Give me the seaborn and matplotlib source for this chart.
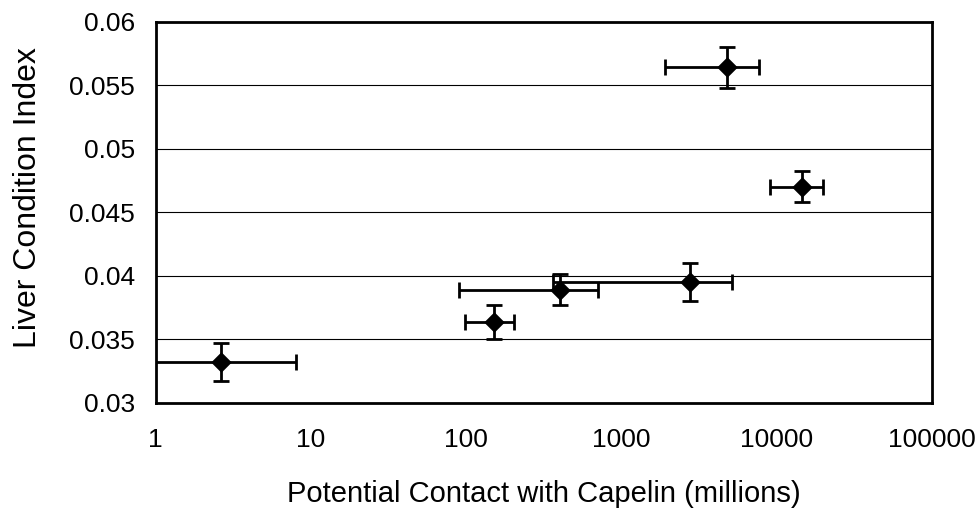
import numpy as np
import pandas as pd
import matplotlib
matplotlib.use('Agg')
import matplotlib.pyplot as plt
import seaborn as sns
from matplotlib.ticker import FuncFormatter, FixedLocator


# =========================
# Dados
# =========================

contact = [2.65, 151, 400, 2760, 4800, 14500]
contact_err = [5.35, 53, 310, 2400, 2900, 5500]
liver = [0.0332, 0.03636, 0.03893, 0.03953, 0.05641, 0.04704]
liver_err = [0.0015, 0.00135, 0.0012, 0.00147, 0.00163, 0.0012]

df = pd.DataFrame({'contact': contact, 'liver': liver})

x_ticks = [1, 10, 100, 1000, 10000, 100000]
y_ticks = [0.03, 0.035, 0.04, 0.045, 0.05, 0.055, 0.06]


# =========================
# Figura
# =========================

sns.set_style('white')
plt.rcParams['font.family'] = ['Liberation Sans', 'DejaVu Sans']
plt.rcParams['text.color'] = 'black'
plt.rcParams['axes.labelcolor'] = 'black'

fig = plt.figure(figsize=(9.79, 5.21), dpi=100)
ax = fig.add_axes([0.159, 0.2265, 0.793, 0.7315])

ax.errorbar(
    df['contact'], df['liver'],
    xerr=contact_err, yerr=liver_err,
    fmt='none', ecolor='black',
    elinewidth=2, capsize=5.5, capthick=2,
    zorder=3
)

sns.scatterplot(
    data=df, x='contact', y='liver',
    marker='D', color='black', s=110,
    edgecolor='black', linewidth=0,
    ax=ax, zorder=4
)

ax.set_xscale('log')
ax.set_xlim(1, 100000)
ax.set_ylim(0.03, 0.06)

ax.xaxis.set_major_locator(FixedLocator(x_ticks))
ax.xaxis.set_minor_locator(FixedLocator([]))
ax.xaxis.set_major_formatter(FuncFormatter(lambda v, p: '%d' % v))
ax.set_yticks(y_ticks)
ax.yaxis.set_major_formatter(FuncFormatter(lambda v, p: '%g' % round(v, 3)))

for y in y_ticks[1:-1]:
    ax.axhline(y, color='black', lw=0.8, zorder=1)

for s in ax.spines.values():
    s.set_color('black')
    s.set_linewidth(2)

ax.tick_params(axis='both', which='major', direction='out',
               length=4, width=0.8, color='black',
               labelsize=19, labelcolor='black', pad=11)
ax.tick_params(axis='x', pad=14)

ax.set_xlabel('Potential Contact with Capelin (millions)', fontsize=21,
              labelpad=20)
ax.set_ylabel('Liver Condition Index', fontsize=23)
ax.yaxis.set_label_coords(-0.145, 0.54)

plt.savefig('out.png', dpi=100)
